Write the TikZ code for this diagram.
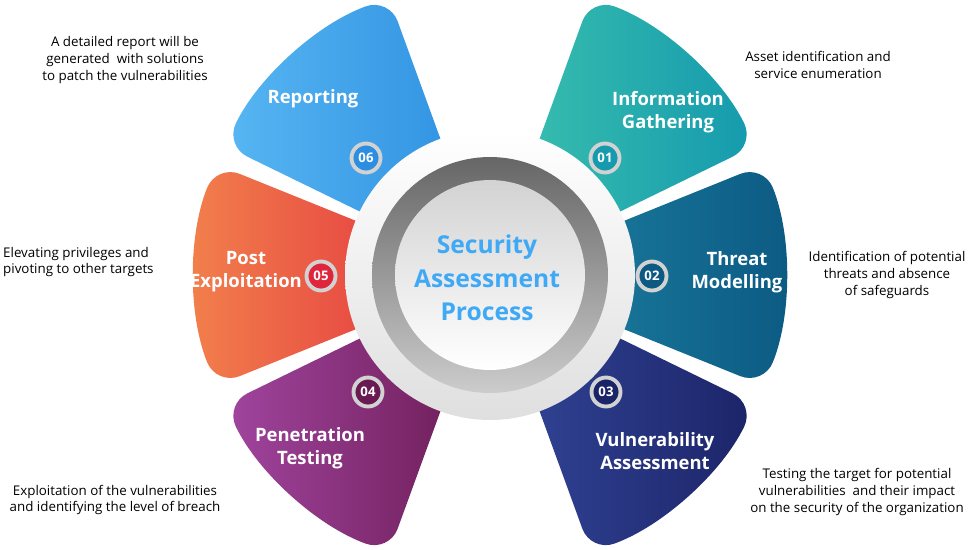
\documentclass[tikz,border=0pt]{standalone}
\usepackage{fontspec}
\setmainfont{Open Sans}
\usetikzlibrary{positioning}
\definecolor{infoA}{HTML}{3CC2AE}\definecolor{infoB}{HTML}{159AAE}
\definecolor{thrA}{HTML}{1F86A6}\definecolor{thrB}{HTML}{0C5A83}
\definecolor{vulA}{HTML}{33479A}\definecolor{vulB}{HTML}{1C2468}
\definecolor{penA}{HTML}{A1459F}\definecolor{penB}{HTML}{6A1A52}
\definecolor{posA}{HTML}{F2804C}\definecolor{posB}{HTML}{E0263C}
\definecolor{repA}{HTML}{57B6F2}\definecolor{repB}{HTML}{2C8EE0}
\definecolor{titleblue}{HTML}{3FA9F5}
\tikzset{
  petal label/.style={text=white, align=center, font=\fontsize{10.5}{13}\selectfont\bfseries},
  desc/.style={text=black, align=center, font=\fontsize{7.6}{9.5}\selectfont},
  badge/.style={circle, draw=gray!35, line width=2.2pt, fill=#1, text=white,
    minimum size=0.58cm, inner sep=0pt, font=\fontsize{7.5}{8}\selectfont\bfseries},
}
% petal of radius 295px, half angle 22 degrees
\newcommand{\petal}[3]{%
  \begin{scope}[rotate=#1]
    \shade[left color=#2, right color=#3, rounded corners=0.5cm]
      (0,0) -- (-22:5.9) arc (-22:22:5.9) -- cycle;
  \end{scope}}
\begin{document}
\begin{tikzpicture}[x=0.02cm, y=-0.02cm]
  \useasboundingbox (0,0) rectangle (980,549);
  \begin{scope}[shift={(490,275)}, x=1cm, y=1cm]
    \petal{48}{infoA}{infoB}
    \petal{0}{thrA}{thrB}
    \petal{-48}{vulA}{vulB}
    \petal{-132}{penA}{penB}
    \petal{180}{posA}{posB}
    \petal{132}{repA}{repB}
    % hub
    \shade[top color=white, bottom color=gray!25] (0,0) circle (2.9);
    \shade[top color=gray!80!black, bottom color=gray!40] (0,0) circle (2.36);
    \shade[top color=gray!35, bottom color=white] (0,0) circle (1.9);
  \end{scope}
  \node (hub) [text=titleblue, align=center, font=\fontsize{14}{19}\selectfont\bfseries]
    at (487,278) {Security\\Assessment\\Process};

  \node (b1) [badge=infoB] at (605,158) {01};
  \node (b2) [badge=thrB]  at (652,276) {02};
  \node (b3) [badge=vulB]  at (606,392) {03};
  \node (b4) [badge=penB]  at (368,392) {04};
  \node (b5) [badge=posB]  at (321,276) {05};
  \node (b6) [badge=repB]  at (366,158) {06};

  \node (l1) [petal label] at (668,112) {Information\\Gathering};
  \node (l2) [petal label] at (737,272) {Threat\\Modelling};
  \node (l3) [petal label] at (655,451) {Vulnerability\\Assessment};
  \node (l4) [petal label] at (310,448) {Penetration\\Testing};
  \node (l5) [petal label] at (246,272) {Post\\Exploitation};
  \node (l6) [petal label] at (313,99)  {Reporting};

  \node (d6) [desc] at (125,60)  {A detailed report will be\\generated\ \ with solutions\\to patch the vulnerabilities};
  \node (d1) [desc] at (818,65)  {Asset identification and\\service enumeration};
  \node (d2) [desc] at (887,275) {Identification of potential\\threats and absence\\of safeguards};
  \node (d3) [desc] at (857,492) {Testing the target for potential\\vulnerabilities\ \ and their impact\\on the security of the organization};
  \node (d4) [desc] at (115,500) {Exploitation of the vulnerabilities\\and identifying the level of breach};
  \node (d5) [desc, align=left, anchor=west] at (-3,262) {Elevating privileges and\\pivoting to other targets};
\end{tikzpicture}
\end{document}
